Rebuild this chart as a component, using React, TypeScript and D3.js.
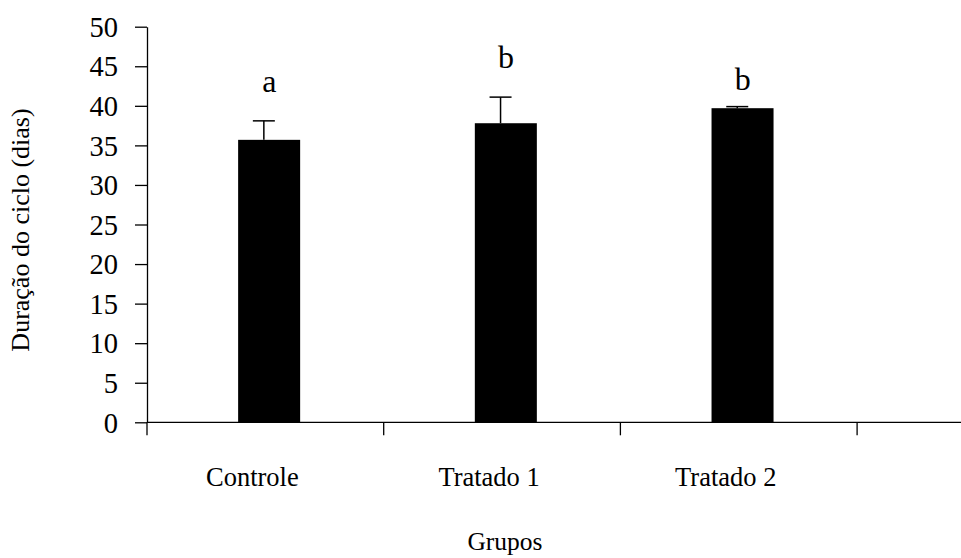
import * as d3 from 'd3';
import React, { useEffect, useRef } from 'react';

const categories = ['Controle', 'Tratado 1', 'Tratado 2'];
const slots = [...categories, ''];
const means = [35.7, 37.8, 39.7];
const errors = [2.4, 3.3, 0.2];
const letters = ['a', 'b', 'b'];
const letterLevels = [41.8, 44.8, 42.0];
const yTicks = [0, 5, 10, 15, 20, 25, 30, 35, 40, 45, 50];

const W = 961;
const H = 558;
const FONT = '"Liberation Serif", "Times New Roman", serif';

export default function App() {
  const svgRef = useRef<SVGSVGElement>(null);

  useEffect(() => {
    document.body.style.margin = '0';
    const svg = d3.select(svgRef.current).attr('width', W).attr('height', H).html('');

    const left = 147;
    const top = 26.7;
    const bottom = 422.3;

    const x = d3.scaleBand().domain(slots).range([left, left + 4 * 236.7]).padding(0);
    const y = d3.scaleLinear().domain([0, 50]).range([bottom, top]);
    const bw = x.bandwidth();

    // y axis
    const yAxis = svg.append('g')
      .attr('transform', `translate(${left},0)`)
      .call(d3.axisLeft(y).tickValues(yTicks).tickSize(12).tickSizeOuter(0).tickPadding(17));
    yAxis.select('.domain').attr('stroke', '#000').attr('stroke-width', 1.3);
    yAxis.selectAll('.tick line').attr('stroke', '#000').attr('stroke-width', 1.3);
    yAxis.selectAll('.tick text')
      .attr('font-family', FONT)
      .attr('font-size', 28.5)
      .attr('fill', '#000')
      .attr('dy', '0.34em');

    // x axis
    svg.append('line')
      .attr('x1', left).attr('x2', W)
      .attr('y1', bottom).attr('y2', bottom)
      .attr('stroke', '#000').attr('stroke-width', 1.3);
    svg.selectAll('.xtick')
      .data(slots)
      .enter().append('line')
      .attr('class', 'xtick')
      .attr('x1', d => x(d)!).attr('x2', d => x(d)!)
      .attr('y1', bottom).attr('y2', bottom + 13)
      .attr('stroke', '#000').attr('stroke-width', 1.3);

    const data = categories.map((c, i) => ({
      c, mean: means[i], err: errors[i], letter: letters[i], level: letterLevels[i]
    }));

    // bars
    svg.selectAll('.bar')
      .data(data)
      .enter().append('rect')
      .attr('class', 'bar')
      .attr('x', d => x(d.c)! + bw * 0.385)
      .attr('width', bw * 0.262)
      .attr('y', d => y(d.mean))
      .attr('height', d => bottom - y(d.mean))
      .attr('fill', '#000');

    // error bars
    const eg = svg.selectAll('.err').data(data).enter().append('g').attr('class', 'err');
    eg.append('line')
      .attr('x1', d => x(d.c)! + bw / 2 - 1.5)
      .attr('x2', d => x(d.c)! + bw / 2 - 1.5)
      .attr('y1', d => y(d.mean))
      .attr('y2', d => y(d.mean + d.err))
      .attr('stroke', '#000').attr('stroke-width', 1.5);
    eg.append('line')
      .attr('x1', d => x(d.c)! + bw / 2 - 12.5)
      .attr('x2', d => x(d.c)! + bw / 2 + 9.5)
      .attr('y1', d => y(d.mean + d.err))
      .attr('y2', d => y(d.mean + d.err))
      .attr('stroke', '#000').attr('stroke-width', 1.5);

    // significance letters
    svg.selectAll('.letter')
      .data(data)
      .enter().append('text')
      .attr('class', 'letter')
      .attr('x', d => x(d.c)! + bw / 2 + 4)
      .attr('y', d => y(d.level))
      .attr('text-anchor', 'middle')
      .attr('font-family', FONT)
      .attr('font-size', 32)
      .text(d => d.letter);

    // category labels
    svg.selectAll('.xlabel')
      .data(categories)
      .enter().append('text')
      .attr('class', 'xlabel')
      .attr('x', d => x(d)! + bw / 2 - 13)
      .attr('y', 486)
      .attr('text-anchor', 'middle')
      .attr('font-family', FONT)
      .attr('font-size', 26.5)
      .text(d => d);

    // axis titles
    svg.append('text')
      .attr('x', 505).attr('y', 550)
      .attr('text-anchor', 'middle')
      .attr('font-family', FONT)
      .attr('font-size', 25.5)
      .text('Grupos');

    svg.append('text')
      .attr('transform', 'translate(29,230) rotate(-90)')
      .attr('text-anchor', 'middle')
      .attr('font-family', FONT)
      .attr('font-size', 26)
      .text('Duração do ciclo (dias)');
  }, []);

  return <svg ref={svgRef} style={{ display: 'block' }} />;
}
